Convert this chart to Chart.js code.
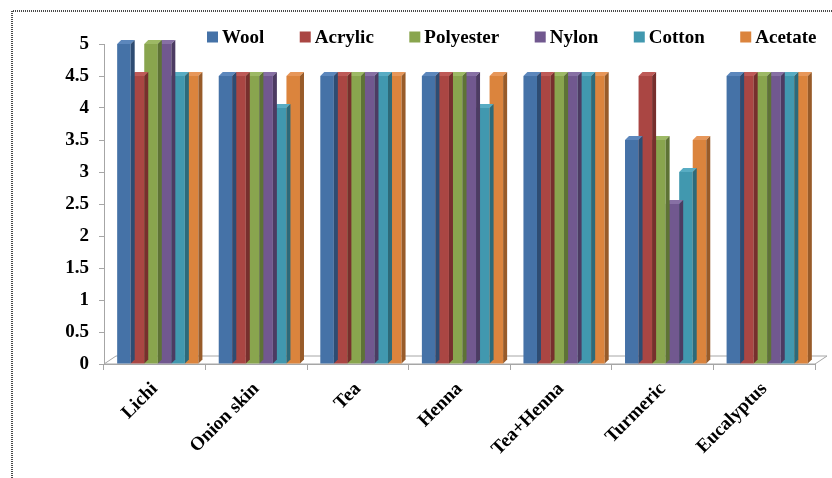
<!DOCTYPE html>
<html>
<head>
<meta charset="utf-8">
<script src="https://cdn.jsdelivr.net/npm/chart.js@4/dist/chart.umd.min.js"></script>
<style>
  html, body { margin: 0; padding: 0; background: #ffffff; }
  #c { display: block; }
</style>
</head>
<body>
<canvas id="c" width="832" height="478"></canvas>
<script>
// Dye sources on the category axis, fastness rating per fibre (0–5 scale)
const categories = ['Lichi', 'Onion skin', 'Tea', 'Henna', 'Tea+Henna', 'Turmeric', 'Eucalyptus'];
const fibres = ['Wool', 'Acrylic', 'Polyester', 'Nylon', 'Cotton', 'Acetate'];

const wool      = [5,   4.5, 4.5, 4.5, 4.5, 3.5, 4.5];
const acrylic   = [4.5, 4.5, 4.5, 4.5, 4.5, 4.5, 4.5];
const polyester = [5,   4.5, 4.5, 4.5, 4.5, 3.5, 4.5];
const nylon     = [5,   4.5, 4.5, 4.5, 4.5, 2.5, 4.5];
const cotton    = [4.5, 4,   4.5, 4,   4.5, 3,   4.5];
const acetate   = [4.5, 4.5, 4.5, 4.5, 4.5, 3.5, 4.5];

const yMin = 0, yMax = 5, yStep = 0.5;

// Face colours: front, side (shaded) and top (lit)
const frontColors = ['#4572A7', '#AA4643', '#89A54E', '#71588F', '#4198AF', '#DB843D'];
const sideColors  = ['#2E4C72', '#772F2D', '#5E7335', '#4C3B62', '#2C6A7A', '#985B29'];
const topColors   = ['#5C87BC', '#BE5A57', '#9DB965', '#8770A4', '#58ACC3', '#E7975A'];

const seriesValues = [wool, acrylic, polyester, nylon, cotton, acetate];

const FONT = '"Liberation Serif", "Times New Roman", serif';
const DEPTH_X = 4, DEPTH_Y = 4;
const BAR_SHIFT = 3;
const AXIS_GREY = '#a6a6a6';

// Frame around the figure
const framePlugin = {
  id: 'frame',
  beforeDraw(chart) {
    const ctx = chart.ctx;
    ctx.save();
    ctx.strokeStyle = '#4a4a4a';
    ctx.lineWidth = 2;
    ctx.setLineDash([1, 1]);
    ctx.beginPath();
    ctx.moveTo(12, chart.height);
    ctx.lineTo(12, 11);
    ctx.lineTo(chart.width, 11);
    ctx.stroke();
    ctx.restore();
  }
};

// Floor of the 3-D plot; bars sit slightly back on it
const floorPlugin = {
  id: 'floor',
  beforeDatasetsDraw(chart) {
    const { ctx, chartArea: a } = chart;
    const dx = 12, dy = 8;
    ctx.save();
    ctx.beginPath();
    ctx.moveTo(a.left, a.bottom);
    ctx.lineTo(a.left + dx, a.bottom - dy);
    ctx.lineTo(a.right + dx, a.bottom - dy);
    ctx.lineTo(a.right, a.bottom);
    ctx.closePath();
    ctx.fillStyle = '#ffffff';
    ctx.fill();
    ctx.strokeStyle = AXIS_GREY;
    ctx.lineWidth = 1;
    ctx.stroke();
    ctx.restore();
    ctx.save();
    ctx.translate(BAR_SHIFT, 0);
  },
  afterDatasetsDraw(chart) {
    chart.ctx.restore();
  }
};

// Top and side faces for each bar, drawn right after its dataset
const bar3dPlugin = {
  id: 'bar3d',
  afterDatasetDraw(chart, args) {
    const ctx = chart.ctx;
    const i = args.index;
    ctx.save();
    args.meta.data.forEach(el => {
      const p = el.getProps(['x', 'y', 'base', 'width'], true);
      const x1 = p.x - p.width / 2, x2 = p.x + p.width / 2;
      // top
      ctx.beginPath();
      ctx.moveTo(x1, p.y);
      ctx.lineTo(x1 + DEPTH_X, p.y - DEPTH_Y);
      ctx.lineTo(x2 + DEPTH_X, p.y - DEPTH_Y);
      ctx.lineTo(x2, p.y);
      ctx.closePath();
      ctx.fillStyle = topColors[i];
      ctx.fill();
      // side
      ctx.beginPath();
      ctx.moveTo(x2, p.y);
      ctx.lineTo(x2 + DEPTH_X, p.y - DEPTH_Y);
      ctx.lineTo(x2 + DEPTH_X, p.base - DEPTH_Y);
      ctx.lineTo(x2, p.base);
      ctx.closePath();
      ctx.fillStyle = sideColors[i];
      ctx.fill();
    });
    ctx.restore();
  }
};

// Legend row across the top
const legendPlugin = {
  id: 'legendRow',
  afterDraw(chart) {
    const ctx = chart.ctx;
    ctx.save();
    ctx.font = 'bold 19px ' + FONT;
    ctx.textBaseline = 'alphabetic';
    ctx.textAlign = 'left';
    let x = 207;
    chart.data.datasets.forEach((ds, i) => {
      ctx.fillStyle = frontColors[i];
      ctx.fillRect(x, 31.5, 11, 11);
      ctx.fillStyle = '#000000';
      ctx.fillText(ds.label, x + 15, 42.5);
      x += 15 + ctx.measureText(ds.label).width + 35.5;
    });
    ctx.restore();
  }
};

new Chart(document.getElementById('c'), {
  type: 'bar',
  data: {
    labels: categories,
    datasets: fibres.map((name, i) => ({
      label: name,
      data: seriesValues[i],
      backgroundColor: frontColors[i],
      borderWidth: 0,
      categoryPercentage: 0.8,
      barPercentage: 1.0
    }))
  },
  options: {
    responsive: false,
    animation: false,
    devicePixelRatio: 1,
    layout: { padding: { top: 44, right: 17, left: 0, bottom: 0 } },
    plugins: {
      legend: { display: false },
      tooltip: { enabled: false }
    },
    scales: {
      x: {
        grid: { display: true, drawOnChartArea: false, tickLength: 6, color: AXIS_GREY, offset: true },
        border: { color: AXIS_GREY },
        ticks: {
          color: '#000000',
          font: { family: FONT, size: 19, weight: 'bold' },
          maxRotation: 45,
          minRotation: 45,
          padding: 8
        },
        afterFit(scale) { scale.height = 114; }
      },
      y: {
        min: yMin,
        max: yMax,
        grid: { display: true, drawOnChartArea: false, tickLength: 5, color: AXIS_GREY },
        border: { color: AXIS_GREY },
        ticks: {
          stepSize: yStep,
          color: '#000000',
          font: { family: FONT, size: 19, weight: 'bold' },
          padding: 10,
          callback: v => String(v)
        },
        afterFit(scale) { scale.width = 104; }
      }
    }
  },
  plugins: [framePlugin, floorPlugin, bar3dPlugin, legendPlugin]
});
</script>
</body>
</html>
